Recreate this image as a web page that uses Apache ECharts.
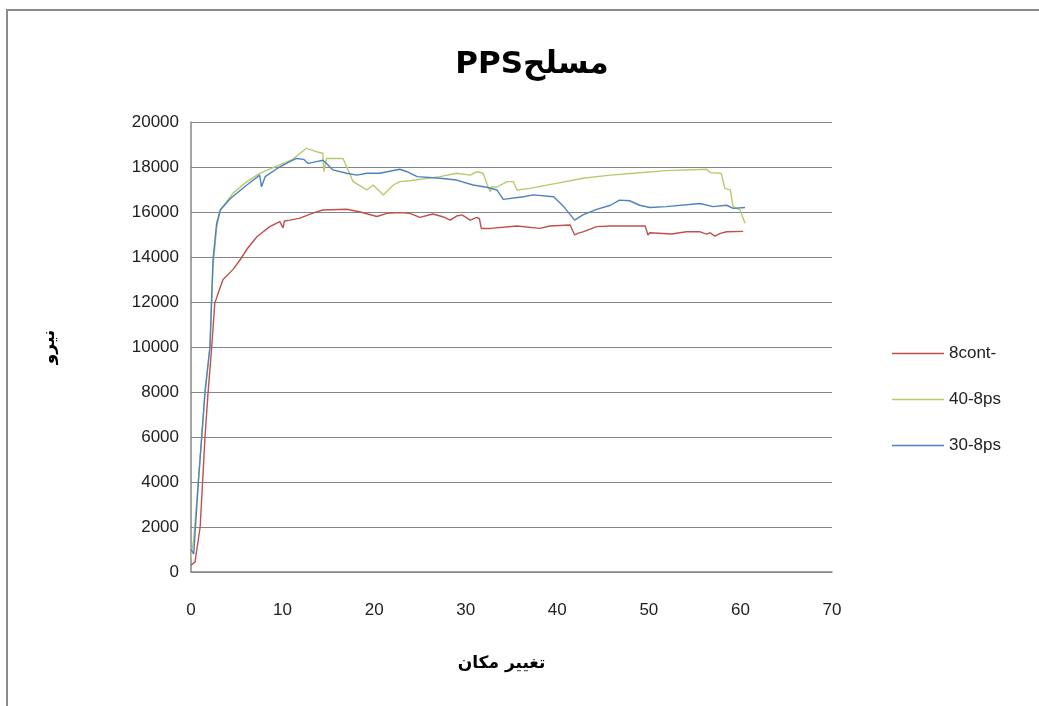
<!DOCTYPE html>
<html>
<head>
<meta charset="utf-8">
<script src="https://cdn.jsdelivr.net/npm/echarts@6/dist/echarts.min.js"></script>
<style>html,body{margin:0;padding:0;background:#fff}#c{width:1039px;height:706px}</style>
</head>
<body>
<div id="c"></div>
<script>
const titleText = 'PPSمسلح';
const xAxisName = 'تغییر مکان';
const yAxisName = 'نیرو';
const seriesNames = ['8cont-', '40-8ps', '30-8ps'];
const xTicks = {min: 0, max: 70, interval: 10};
const yTicks = {min: 0, max: 20000, interval: 2000};

const red = [[0,300],[0.44,450],[1,2000],[1.53,6000],[1.86,7950],[2.26,10000],[2.6,11950],[3.2,12670],[3.5,13000],[4.6,13450],[5.4,13900],[6.2,14400],[7.2,14900],[8.6,15350],[9.7,15570],[10.05,15290],[10.2,15600],[10.8,15640],[11.9,15730],[13.3,15950],[14.4,16090],[17,16120],[18.5,16000],[20.3,15800],[21.4,15940],[22.8,15970],[23.9,15940],[25,15760],[26.4,15910],[27.5,15790],[28.3,15640],[29,15820],[29.6,15870],[30.5,15640],[31.2,15760],[31.5,15700],[31.7,15270],[32.7,15270],[35.6,15380],[38.1,15270],[39.2,15380],[41.4,15420],[41.9,14980],[42.3,15060],[42.8,15120],[44.3,15350],[45.8,15380],[49.6,15380],[49.9,14980],[50.1,15080],[52.5,15020],[54.1,15120],[55.6,15120],[56.3,15020],[56.7,15080],[57.2,14930],[57.8,15050],[58.5,15120],[60.3,15140]];

const green = [[0,600],[0.3,1500],[0.8,4000],[1.17,6000],[1.53,8000],[2.07,10000],[2.4,13500],[2.8,15300],[3.2,16090],[4.6,16840],[6.1,17350],[7.5,17720],[9.7,18090],[11.1,18340],[12.6,18830],[13.7,18680],[14.4,18610],[14.5,17790],[14.8,18380],[16.6,18380],[17,18010],[17.7,17350],[19.2,16980],[19.9,17200],[21,16760],[22.1,17200],[22.8,17350],[23.9,17390],[27.2,17570],[29,17720],[30.5,17640],[31.2,17790],[31.9,17720],[32.5,17050],[32.7,16900],[32.8,17120],[33.4,17100],[34.5,17350],[35.2,17350],[35.6,16980],[37,17050],[39.9,17270],[42.8,17500],[45.8,17640],[48.3,17720],[51.9,17840],[56.3,17900],[56.7,17750],[57.9,17720],[58.3,17050],[58.9,16980],[59.2,16240],[59.95,16090],[60.5,15500]];

const blue = [[0,1000],[0.3,800],[0.8,4000],[1.17,6000],[1.53,8000],[2.07,10000],[2.4,13870],[2.8,15500],[3.2,16090],[4.3,16600],[6.1,17200],[7.5,17640],[7.7,17120],[8.1,17570],[9.7,18010],[10.8,18240],[11.5,18380],[12.3,18340],[12.8,18160],[13.7,18240],[14.4,18300],[14.8,18160],[15.5,17870],[17,17720],[18.1,17640],[19.2,17720],[20.6,17720],[22.8,17900],[23.6,17790],[24.7,17570],[27.2,17500],[29,17420],[30.8,17200],[32.3,17100],[33.4,16980],[34.1,16560],[36.3,16680],[37.4,16760],[39.6,16680],[40.7,16240],[41.9,15640],[42.8,15870],[44.3,16120],[45.8,16300],[46.8,16530],[47.9,16500],[49,16300],[50.1,16200],[51.9,16240],[55.6,16380],[57,16240],[58.5,16300],[59.2,16160],[60.5,16200]];

const colors = ['#C0504D', '#B5CB6E', '#4F81BD'];

const chart = echarts.init(document.getElementById('c'), null, {renderer: 'canvas'});
const labelStyle = {color: '#222', fontFamily: 'Liberation Sans, Arial, sans-serif', fontSize: 17};
chart.setOption({
  animation: false,
  backgroundColor: '#fff',
  color: colors,
  graphic: [{
    type: 'rect', shape: {x: 7, y: 10, width: 1100, height: 800},
    style: {fill: 'none', stroke: '#8c8c8c', lineWidth: 2}, silent: true
  }],
  title: {
    text: titleText, left: 527, top: 44, textAlign: 'center',
    textStyle: {fontFamily: 'DejaVu Sans, sans-serif', fontWeight: 'bold', fontSize: 31, color: '#000'}
  },
  grid: {left: 191, right: 207, top: 122, bottom: 134, containLabel: false},
  legend: {
    orient: 'vertical', left: 887, top: 340, itemWidth: 52, itemHeight: 16, itemGap: 29,
    textStyle: {color: '#222', fontFamily: 'Liberation Sans, Arial, sans-serif', fontSize: 17},
    data: seriesNames.map((n, i) => ({
      name: n,
      icon: 'path://M0,7.4 L52,7.4 L52,8.8 L0,8.8 Z',
      itemStyle: {color: colors[i], borderWidth: 0}
    }))
  },
  xAxis: {
    type: 'value', min: xTicks.min, max: xTicks.max, interval: xTicks.interval,
    name: xAxisName, nameLocation: 'middle', nameGap: 83,
    nameTextStyle: {fontFamily: 'DejaVu Sans, sans-serif', fontWeight: 'bold', fontSize: 17, color: '#000', padding: [0, 20, 0, 0]},
    axisLine: {lineStyle: {color: '#868686', width: 1.5}},
    axisTick: {show: false},
    axisLabel: Object.assign({margin: 30, formatter: v => String(v)}, labelStyle),
    splitLine: {show: false}
  },
  yAxis: {
    type: 'value', min: yTicks.min, max: yTicks.max, interval: yTicks.interval,
    name: yAxisName, nameLocation: 'middle', nameGap: 133,
    nameTextStyle: {fontFamily: 'DejaVu Sans, sans-serif', fontWeight: 'bold', fontSize: 17, color: '#000'},
    axisLine: {show: true, lineStyle: {color: '#868686', width: 1.5}},
    axisTick: {show: false},
    axisLabel: Object.assign({margin: 12, formatter: v => String(v)}, labelStyle),
    splitLine: {lineStyle: {color: '#868686', width: 1.2}}
  },
  series: [red, green, blue].map((d, i) => ({
    name: seriesNames[i], type: 'line', data: d, symbol: 'none', showSymbol: false,
    lineStyle: {color: colors[i], width: 1.4}, itemStyle: {color: colors[i]}
  }))
});
</script>
</body>
</html>
